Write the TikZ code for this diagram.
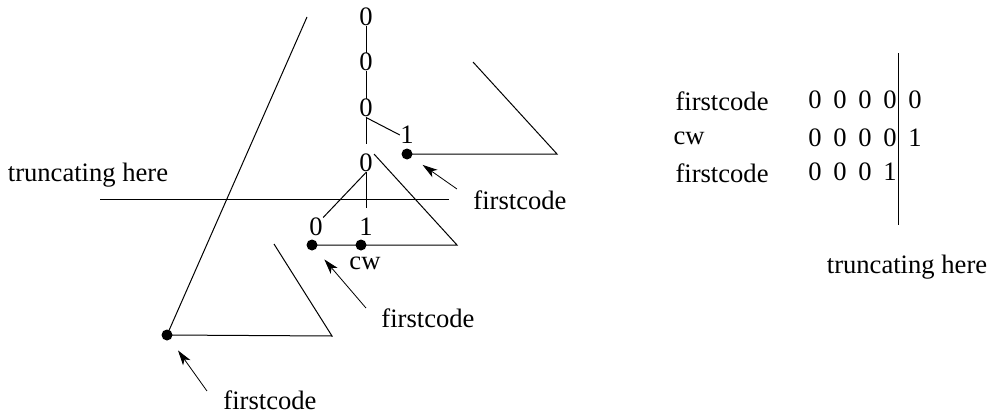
\documentclass[tikz,border=0pt]{standalone}
\usepackage{fontspec}
\setmainfont{Liberation Serif}
\usetikzlibrary{arrows.meta}

\begin{document}
\begin{tikzpicture}[x=1pt,y=-1pt,line width=1pt,
		every node/.style={inner sep=0pt,font=\fontsize{26.6}{30}\selectfont},
		dot/.style={circle,fill,inner sep=0pt,minimum size=11pt},
		pointer/.style={line width=0.8pt,shorten >=13pt,-{Stealth[length=15pt,width=9pt,inset=4pt]}}]
		\useasboundingbox (0,0) rectangle (995,415);
		%%chain of zeros
		\node (z1) at (366,17) {0};
		\node (z2) at (366,62) {0};
		\node (z3) at (366,108) {0};
		\node (z4) at (366,163) {0};
		\node (one) at (407,135) {1};
		\draw (z1) -- (z2) -- (z3);
		\draw[shorten >=10pt] (z3) -- (z4);
		\draw (z3.south) -- (one.west);
		%%children of the last zero
		\node (zl) at (316,227) {0};
		\node (zr) at (366,227) {1};
		\draw (z4.south) -- (zl.north east);
		\draw[shorten >=10pt] (z4) -- (zr);
		%%dots
		\node[dot] (d1) at (407,154) {};
		\node[dot] (d2) at (312,245) {};
		\node[dot] (d3) at (361,245) {};
		\node[dot] (d4) at (167,335) {};
		\node (cw) at (365,263) {cw};
		%%subtrees
		\coordinate (big top) at (307,17);
		\coordinate (big end) at (332,336);
		\coordinate (big tip) at (274,244);
		\draw (big top) -- (d4.center) -- (big end) -- (big tip);
		\coordinate (up end) at (557,154);
		\coordinate (up tip) at (473,62);
		\draw (d1.center) -- (up end) -- (up tip);
		\coordinate (mid tip) at (374,154);
		\coordinate (mid end) at (457,245);
		\draw (mid tip) -- (mid end) -- (d3.center) -- (d2.center);
		%%truncating line
		\coordinate (cut left) at (100,199);
		\coordinate (cut right) at (449,199);
		\draw (cut left) -- (cut right);
		\node (cut) at (88,175) {truncating here};
		%%pointers
		\node (fc1) at (520,200) {firstcode};
		\node (fc2) at (428,318) {firstcode};
		\node (fc3) at (270,400) {firstcode};
		\draw[pointer] ([xshift=-16pt,yshift=11pt]fc1.west) -- (d1);
		\draw[pointer] ([xshift=-15pt,yshift=10pt]fc2.west) -- (d2);
		\draw[pointer] ([xshift=-16pt,yshift=9pt]fc3.west) -- (d4);
		%%table
		\node[anchor=west] (row1) at (675,101) {firstcode};
		\node[anchor=west] (row2) at (673,138) {cw};
		\node[anchor=west] (row3) at (675,173) {firstcode};
		\foreach \bits/\y [count=\r] in {{0,0,0,0,0}/100,{0,0,0,0,1}/138,{0,0,0,1}/172}
			\foreach \b [count=\c] in \bits
				\node (bit\r\c) at (790+25*\c,\y) {\b};
		\coordinate (bar top) at (898,53);
		\coordinate (bar end) at (898,225);
		\draw (bar top) -- (bar end);
		\node (cut2) at (907,267) {truncating here};
	\end{tikzpicture}
\end{document}
